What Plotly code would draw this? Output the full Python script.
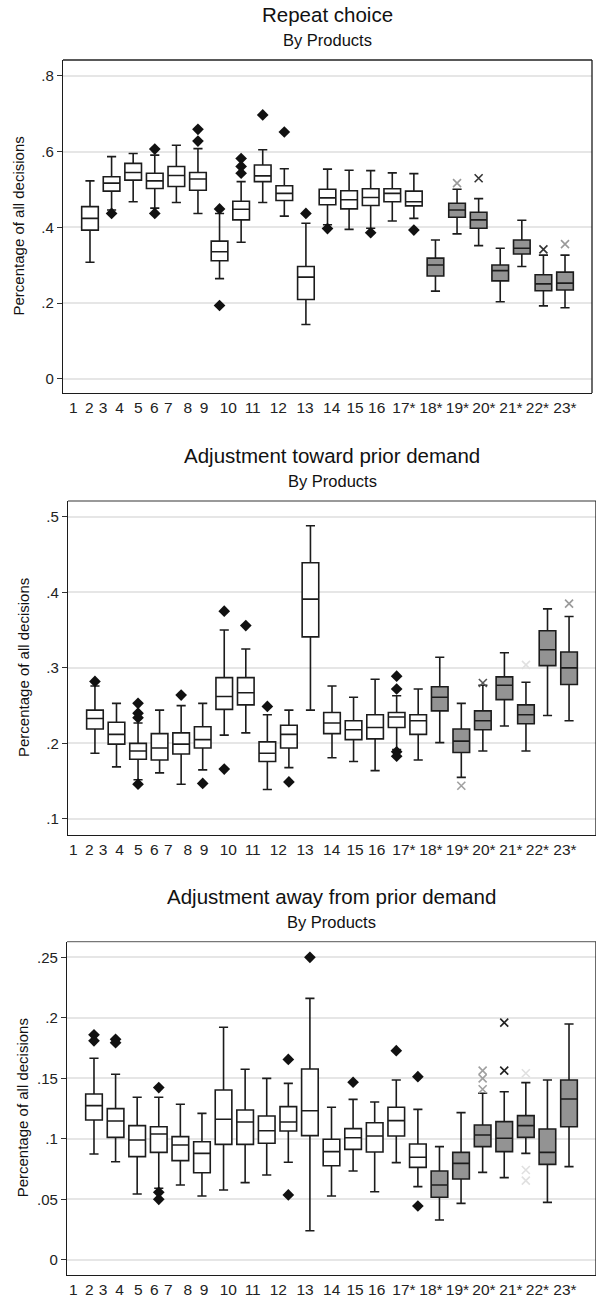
import plotly.graph_objects as go

# ---------------- data ----------------
products = list(range(1, 24))
x_labels = [str(i) for i in range(1, 17)] + [f"{i}*" for i in range(17, 24)]
n_plain = 16  # products 1-16 plain, 17*-23* shaded

panel_titles = ["Repeat choice", "Adjustment toward prior demand", "Adjustment away from prior demand"]
subtitle = "By Products"
y_title = "Percentage of all decisions"

# Panel 1: Repeat choice
rep_lower = [0.308, 0.446, 0.468, 0.451, 0.466, 0.437, 0.265, 0.361, 0.466, 0.430, 0.144, 0.407, 0.395, 0.398, 0.417, 0.424, 0.232, 0.383, 0.352, 0.204, 0.297, 0.193, 0.188]
rep_q1 = [0.393, 0.496, 0.525, 0.503, 0.508, 0.498, 0.312, 0.420, 0.521, 0.471, 0.210, 0.460, 0.449, 0.458, 0.468, 0.457, 0.272, 0.427, 0.398, 0.259, 0.330, 0.233, 0.235]
rep_median = [0.424, 0.517, 0.545, 0.523, 0.537, 0.528, 0.336, 0.448, 0.536, 0.490, 0.269, 0.478, 0.473, 0.479, 0.490, 0.468, 0.301, 0.446, 0.420, 0.286, 0.345, 0.251, 0.253]
rep_q3 = [0.455, 0.534, 0.569, 0.543, 0.561, 0.545, 0.364, 0.469, 0.565, 0.510, 0.297, 0.501, 0.497, 0.502, 0.502, 0.496, 0.319, 0.464, 0.440, 0.301, 0.367, 0.275, 0.282]
rep_upper = [0.523, 0.587, 0.595, 0.591, 0.617, 0.608, 0.437, 0.521, 0.605, 0.555, 0.411, 0.554, 0.551, 0.550, 0.544, 0.542, 0.367, 0.501, 0.476, 0.345, 0.419, 0.327, 0.327]
rep_out_x = [2, 4, 4, 6, 6, 7, 7, 8, 8, 8, 9, 10, 11, 12, 14, 16]
rep_out_y = [0.437, 0.607, 0.437, 0.659, 0.628, 0.449, 0.194, 0.582, 0.561, 0.543, 0.697, 0.652, 0.437, 0.397, 0.386, 0.393]
rep_xout_x = [18, 19, 22, 23]
rep_xout_y = [0.517, 0.530, 0.342, 0.356]
rep_xout_shade = ["#9a9a9a", "#333333", "#333333", "#9a9a9a"]

# Panel 2: Adjustment toward prior demand
tow_lower = [0.187, 0.169, 0.152, 0.161, 0.146, 0.165, 0.211, 0.214, 0.139, 0.168, 0.244, 0.181, 0.176, 0.164, 0.192, 0.178, 0.201, 0.155, 0.190, 0.223, 0.190, 0.237, 0.230]
tow_q1 = [0.219, 0.199, 0.179, 0.178, 0.186, 0.194, 0.245, 0.251, 0.176, 0.194, 0.341, 0.213, 0.205, 0.206, 0.221, 0.212, 0.243, 0.188, 0.218, 0.258, 0.226, 0.303, 0.278]
tow_median = [0.233, 0.212, 0.190, 0.194, 0.199, 0.205, 0.262, 0.267, 0.187, 0.212, 0.391, 0.227, 0.218, 0.221, 0.235, 0.230, 0.261, 0.203, 0.230, 0.277, 0.238, 0.324, 0.300]
tow_q3 = [0.244, 0.228, 0.200, 0.213, 0.214, 0.222, 0.287, 0.287, 0.202, 0.224, 0.439, 0.241, 0.230, 0.238, 0.241, 0.238, 0.275, 0.219, 0.243, 0.288, 0.251, 0.349, 0.321]
tow_upper = [0.276, 0.253, 0.227, 0.244, 0.250, 0.253, 0.350, 0.325, 0.238, 0.244, 0.488, 0.276, 0.261, 0.285, 0.263, 0.272, 0.314, 0.253, 0.277, 0.320, 0.281, 0.378, 0.368]
tow_out_x = [1, 3, 3, 3, 3, 5, 6, 7, 7, 8, 9, 10, 15, 15, 15, 15]
tow_out_y = [0.282, 0.253, 0.240, 0.234, 0.146, 0.264, 0.147, 0.375, 0.166, 0.356, 0.249, 0.149, 0.289, 0.272, 0.189, 0.183]
tow_xout_x = [18, 19, 21, 23]
tow_xout_y = [0.144, 0.280, 0.304, 0.385]
tow_xout_shade = ["#a0a0a0", "#555555", "#e0e0e0", "#9a9a9a"]

# Panel 3: Adjustment away from prior demand
awy_lower = [0.0876, 0.0812, 0.0545, 0.0592, 0.0620, 0.0529, 0.0578, 0.0639, 0.0702, 0.0807, 0.0242, 0.0529, 0.0735, 0.0564, 0.0804, 0.0606, 0.0330, 0.0468, 0.0724, 0.0680, 0.0881, 0.0476, 0.0771]
awy_q1 = [0.1156, 0.1013, 0.0854, 0.0889, 0.0821, 0.0721, 0.0955, 0.0955, 0.0964, 0.1066, 0.1027, 0.0779, 0.0914, 0.0892, 0.1024, 0.0765, 0.0518, 0.0669, 0.0936, 0.0895, 0.1013, 0.0790, 0.1101]
awy_median = [0.1275, 0.1148, 0.0991, 0.1041, 0.0950, 0.0881, 0.1162, 0.1140, 0.1068, 0.1140, 0.1233, 0.0895, 0.1010, 0.1024, 0.1151, 0.0848, 0.0620, 0.0798, 0.1032, 0.1005, 0.1110, 0.0889, 0.1330]
awy_q3 = [0.1371, 0.1250, 0.1110, 0.1101, 0.1019, 0.0977, 0.1404, 0.1239, 0.1189, 0.1267, 0.1578, 0.0997, 0.1085, 0.1134, 0.1261, 0.0958, 0.0735, 0.0889, 0.1115, 0.1143, 0.1192, 0.1082, 0.1487]
awy_upper = [0.1666, 0.1534, 0.1344, 0.1344, 0.1286, 0.1211, 0.1922, 0.1575, 0.1500, 0.1459, 0.2161, 0.1261, 0.1327, 0.1305, 0.1487, 0.1244, 0.0936, 0.1217, 0.1377, 0.1390, 0.1465, 0.1487, 0.1949]
awy_out_x = [1, 1, 2, 2, 4, 4, 4, 10, 10, 11, 13, 15, 16, 16]
awy_out_y = [0.186, 0.181, 0.1823, 0.1795, 0.1424, 0.0559, 0.0501, 0.1657, 0.0537, 0.250, 0.1468, 0.1729, 0.1514, 0.0446]
awy_xout_x = [19, 19, 19, 20, 20, 21, 21, 21]
awy_xout_y = [0.1564, 0.1500, 0.1410, 0.196, 0.1564, 0.1542, 0.0743, 0.0655]
awy_xout_shade = ["#a0a0a0", "#a0a0a0", "#a0a0a0", "#222222", "#222222", "#e0e0e0", "#e0e0e0", "#e0e0e0"]

y_ticks = [[0, 0.2, 0.4, 0.6, 0.8], [0.1, 0.2, 0.3, 0.4, 0.5], [0, 0.05, 0.1, 0.15, 0.2, 0.25]]
y_ticktext = [["0", ".2", ".4", ".6", ".8"], [".1", ".2", ".3", ".4", ".5"], ["0", ".05", ".1", ".15", ".2", ".25"]]

# ---------------- layout geometry (pixels) ----------------
W, H = 596, 1300
FONT = "Liberation Sans, Arial, Helvetica, sans-serif"
frames = [(63, 592, 60, 393), (68, 596, 501, 835), (67, 596, 941.7, 1275)]
y_ranges = [[-0.037, 0.842], [0.0788, 0.5208], [-0.0124, 0.2629]]
x_range = [-0.25, 24.25]
label_px = [73.3, 89.3, 103, 119.5, 138.3, 154.3, 168.3, 187.7, 204, 228.3, 252.7, 278.3, 305,
            331.7, 355, 376.7, 404, 431, 457.5, 484, 511, 537.5, 565]
ytitle_px = [18, 23, 22]
top_line_col = ["#222222", "#777777", "#777777"]

panels = [
    (rep_lower, rep_q1, rep_median, rep_q3, rep_upper, rep_out_x, rep_out_y, rep_xout_x, rep_xout_y, rep_xout_shade),
    (tow_lower, tow_q1, tow_median, tow_q3, tow_upper, tow_out_x, tow_out_y, tow_xout_x, tow_xout_y, tow_xout_shade),
    (awy_lower, awy_q1, awy_median, awy_q3, awy_upper, awy_out_x, awy_out_y, awy_xout_x, awy_xout_y, awy_xout_shade),
]

fig = go.Figure()
annotations = []
shapes = []
line_col = "#1c1c1c"

for i, (lo, q1, med, q3, up, ox, oy, xx, xy, xshade) in enumerate(panels):
    sfx = "" if i == 0 else str(i + 1)
    xa, ya = "x" + sfx, "y" + sfx
    for sl, fill in [(slice(0, n_plain), "white"), (slice(n_plain, None), "#939393")]:
        fig.add_trace(go.Box(
            x=products[sl], q1=q1[sl], median=med[sl], q3=q3[sl],
            lowerfence=lo[sl], upperfence=up[sl],
            fillcolor=fill, line=dict(color=line_col, width=1.6),
            whiskerwidth=0.55, width=0.77, boxpoints=False,
            xaxis=xa, yaxis=ya, showlegend=False, hoverinfo="skip"))
    fig.add_trace(go.Scatter(
        x=ox, y=oy, mode="markers", xaxis=xa, yaxis=ya, showlegend=False,
        marker=dict(symbol="diamond", size=9, color="#111111", line=dict(width=0))))
    fig.add_trace(go.Scatter(
        x=xx, y=xy, mode="markers", xaxis=xa, yaxis=ya, showlegend=False,
        marker=dict(symbol="x-thin", size=8, color=xshade, line=dict(width=1.6, color=xshade))))

    left, right, top, bottom = frames[i]
    xdom = [left / W, right / W]
    ydom = [(H - bottom) / H, (H - top) / H]
    span = x_range[1] - x_range[0]
    tickvals = [x_range[0] + (p - left) / (right - left) * span for p in label_px]

    fig.layout["xaxis" + sfx] = dict(
        domain=xdom, range=x_range, anchor=ya, tickvals=tickvals, ticktext=x_labels,
        ticks="", showgrid=False, zeroline=False, showline=True, linecolor=line_col,
        linewidth=1.3, tickfont=dict(family=FONT, size=15.5, color="#222222"), fixedrange=True)
    fig.layout["yaxis" + sfx] = dict(
        domain=ydom, range=y_ranges[i], anchor=xa, tickvals=y_ticks[i], ticktext=y_ticktext[i],
        ticks="outside", ticklen=5, tickwidth=1, tickcolor="#333333",
        showgrid=True, gridcolor="#e6e6e6", gridwidth=1.5, zeroline=False,
        showline=True, linecolor=line_col, linewidth=1.3,
        tickfont=dict(family=FONT, size=15, color="#222222"), fixedrange=True)

    # frame top and right
    shapes.append(dict(type="line", xref=xa + " domain", yref=ya + " domain", x0=0, x1=1, y0=1, y1=1,
                       line=dict(color=top_line_col[i], width=1.3)))
    shapes.append(dict(type="line", xref=xa + " domain", yref=ya + " domain", x0=1, x1=1, y0=0, y1=1,
                       line=dict(color=line_col, width=1.3)))

    cx = (xdom[0] + xdom[1]) / 2
    annotations.append(dict(text=panel_titles[i], xref="paper", yref="paper", x=cx, y=(H - (top - 45)) / H,
                            showarrow=False, xanchor="center", yanchor="middle",
                            font=dict(family=FONT, size=20.5, color="#111111")))
    annotations.append(dict(text=subtitle, xref="paper", yref="paper", x=cx, y=(H - (top - 20)) / H,
                            showarrow=False, xanchor="center", yanchor="middle",
                            font=dict(family=FONT, size=16.5, color="#111111")))
    annotations.append(dict(text=y_title, xref="paper", yref="paper", x=ytitle_px[i] / W,
                            y=(ydom[0] + ydom[1]) / 2, textangle=-90, showarrow=False,
                            xanchor="center", yanchor="middle",
                            font=dict(family=FONT, size=15, color="#111111")))

fig.update_layout(
    width=W, height=H, margin=dict(l=0, r=0, t=0, b=0),
    paper_bgcolor="white", plot_bgcolor="white",
    annotations=annotations, shapes=shapes, boxmode="overlay",
)

fig.write_html("out.html")
